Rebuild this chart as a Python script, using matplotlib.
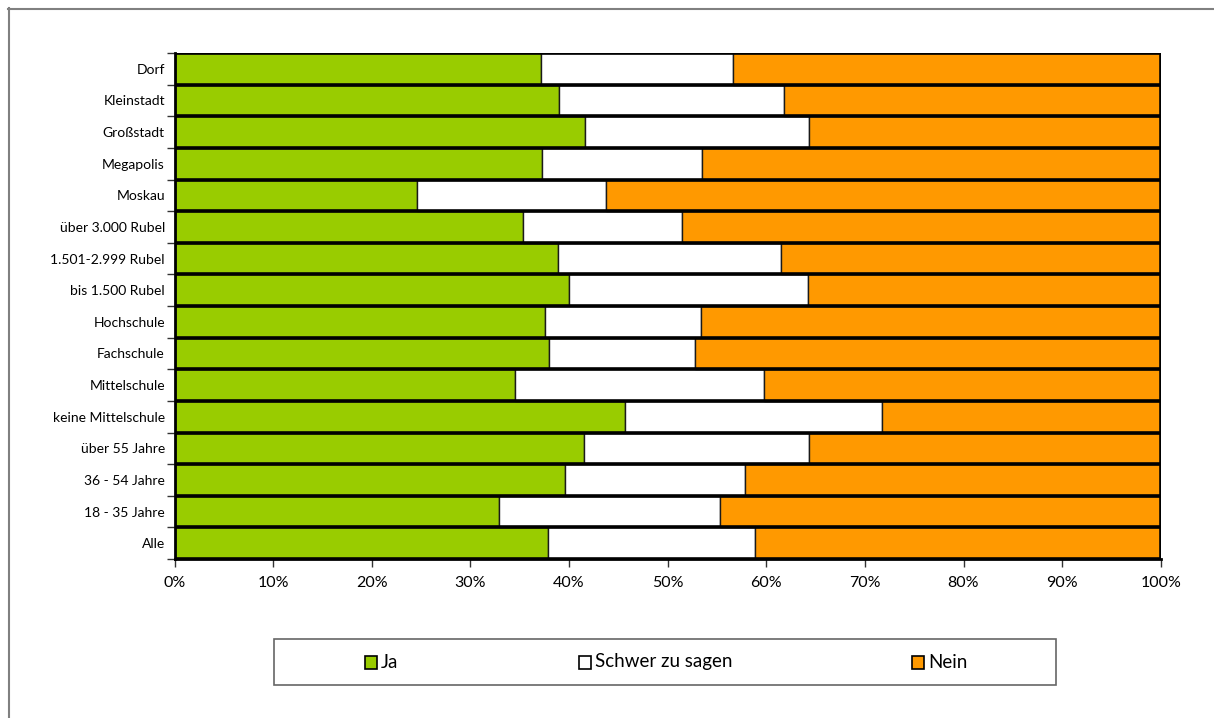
import numpy as np
import matplotlib
matplotlib.use("Agg")
import matplotlib.pyplot as plt
from matplotlib.patches import Rectangle
from matplotlib.lines import Line2D

plt.rcParams['font.family'] = ['Lato', 'DejaVu Sans']

# categories, top to bottom
categories = ["Dorf", "Kleinstadt", "Großstadt", "Megapolis", "Moskau",
              "über 3.000 Rubel", "1.501-2.999 Rubel", "bis 1.500 Rubel",
              "Hochschule", "Fachschule", "Mittelschule", "keine Mittelschule",
              "über 55 Jahre", "36 - 54 Jahre", "18 - 35 Jahre", "Alle"]
ja     = [37.2, 39.0, 41.6, 37.3, 24.6, 35.3, 38.9, 40.0,
          37.6, 38.0, 34.5, 45.7, 41.5, 39.6, 32.9, 37.9]
schwer = [19.4, 22.8, 22.7, 16.2, 19.1, 16.2, 22.6, 24.2,
          15.8, 14.8, 25.3, 26.0, 22.8, 18.2, 22.4, 21.0]
nein   = [43.4, 38.2, 35.7, 46.5, 56.3, 48.5, 38.5, 35.8,
          46.6, 47.2, 40.2, 28.3, 35.7, 42.2, 44.7, 41.1]
series_names = ["Ja", "Schwer zu sagen", "Nein"]
series_colors = ["#99CC00", "#FFFFFF", "#FF9900"]
xticks = np.arange(0, 101, 10)

W, H = 1214, 718
fig = plt.figure(figsize=(W / 100, H / 100), dpi=100)
ax = fig.add_axes([174.7 / W, 1 - 559 / H, 986 / W, 506 / H])

n = len(categories)
y = np.arange(n)[::-1]
left = np.zeros(n)
for vals, name, col in zip([ja, schwer, nein], series_names, series_colors):
    vals = np.array(vals)
    ax.barh(y, vals, left=left, height=1.0, color=col, edgecolor="#1a1a1a",
            linewidth=1.0, label=name, zorder=2)
    left += vals

# thick row separators
for b in np.arange(-0.5, n, 1.0):
    ax.axhline(b, color="black", linewidth=2.6, zorder=3)
ax.axvline(100, color="black", linewidth=2.6, zorder=3)

ax.set_xlim(0, 100)
ax.set_ylim(-0.5, n - 0.5)
ax.set_yticks(y)
ax.set_yticklabels(categories, fontsize=10)
ax.set_yticks(np.arange(-0.5, n, 1.0), minor=True)
ax.tick_params(axis="y", which="major", length=0, pad=7)
ax.tick_params(axis="y", which="minor", length=6, color="#333333", width=1)
ax.set_xticks(xticks)
ax.set_xticklabels([f"{v}%" for v in xticks], fontsize=11.5)
ax.tick_params(axis="x", length=6, color="#333333", width=1, pad=6)
for s in ["top", "right"]:
    ax.spines[s].set_visible(False)
ax.spines["left"].set_linewidth(2)
ax.spines["bottom"].set_linewidth(2)

# legend box drawn in figure pixels
fig.add_artist(Rectangle((274 / W, 1 - 685 / H), (1056 - 274) / W, 46 / H,
                         transform=fig.transFigure, facecolor="white",
                         edgecolor="#666666", linewidth=1.2))
leg_x = [365, 579, 912]
for lx, name, col in zip(leg_x, series_names, series_colors):
    fig.add_artist(Rectangle((lx / W, 1 - 669 / H), 12 / W, 13 / H,
                             transform=fig.transFigure, facecolor=col,
                             edgecolor="black", linewidth=1.2))
    fig.text((lx + 16) / W, 1 - 662 / H, name, fontsize=13.5, va="center", ha="left")

# outer frame
fig.add_artist(Line2D([8 / W, 1], [1 - 8.5 / H, 1 - 8.5 / H], transform=fig.transFigure,
                      color="#808080", linewidth=1.5))
fig.add_artist(Line2D([8.5 / W, 8.5 / W], [0, 1 - 8 / H], transform=fig.transFigure,
                      color="#808080", linewidth=1.5))

fig.savefig("out.png", dpi=100)
